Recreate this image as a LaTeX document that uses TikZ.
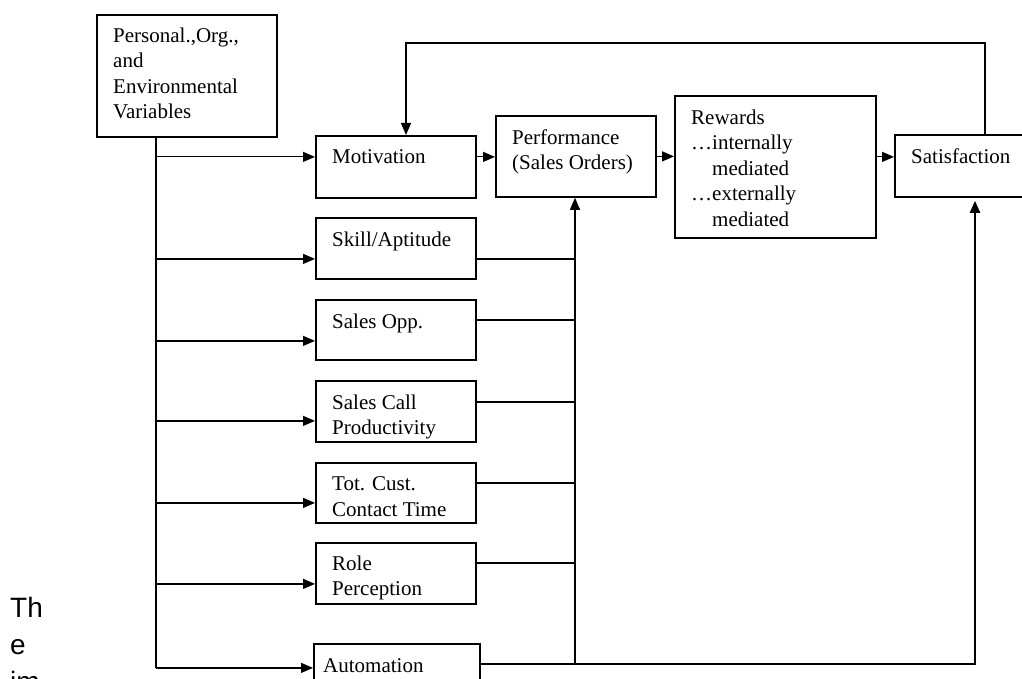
\documentclass[tikz,border=0pt]{standalone}
\usepackage{fontspec}
\setmainfont{Liberation Serif}
\setsansfont{Liberation Sans}
\usetikzlibrary{positioning,arrows.meta}

\tikzset{
	box/.style={draw, line width=1.8pt, anchor=north west, inner sep=0pt},
	txt/.style={anchor=north west, inner sep=0pt, align=left, font=\fontsize{21pt}{25.5pt}\selectfont},
	ln/.style={line width=1.2pt},
	arr/.style={line width=1.2pt, -{Triangle[length=12pt,width=10pt]}},
	heavy/.style={line width=2.2pt},
}

\begin{document}
\begin{tikzpicture}[x=1pt,y=-1pt]

	\useasboundingbox (0,0) rectangle (1022,679);
	\fill[white] (0,0) rectangle (1022,679);

	%boxes
	\node[box, minimum width=180pt, minimum height=122pt] (env) at (96,14) {};
	\node[box, minimum width=160pt, minimum height=62pt] (mot) at (315,135) {};
	\node[box, minimum width=160pt, minimum height=81pt] (perf) at (495,115) {};
	\node[box, minimum width=201pt, minimum height=142pt] (rew) at (674,95) {};
	\node[box, minimum width=135pt, minimum height=62pt] (sat) at (894,134) {};
	\node[box, minimum width=160pt, minimum height=61pt] (skill) at (315,217) {};
	\node[box, minimum width=160pt, minimum height=60pt] (opp) at (315,299) {};
	\node[box, minimum width=160pt, minimum height=61pt] (call) at (315,380) {};
	\node[box, minimum width=160pt, minimum height=60pt] (tot) at (315,462) {};
	\node[box, minimum width=160pt, minimum height=61pt] (role) at (315,542) {};
	\node[box, minimum width=166pt, minimum height=62pt] (auto) at (313,643) {};

	%box texts
	\node[txt, below right=13.5pt and 17pt of env.north west] (env-t) {Personal.,Org.,\\and\\Environmental\\Variables};
	\node[txt, below right=14.5pt and 17pt of mot.north west] (mot-t) {Motivation};
	\node[txt, below right=14.5pt and 17pt of perf.north west] (perf-t) {Performance\\(Sales Orders)};
	\node[txt, below right=14.5pt and 17pt of rew.north west] (rew-t) {Rewards\\…internally\\\phantom{…}mediated\\…externally\\\phantom{…}mediated};
	\node[txt, below right=15pt and 17pt of sat.north west] (sat-t) {Satisfaction};
	\node[txt, below right=14.5pt and 17pt of skill.north west] (skill-t) {Skill/Aptitude};
	\node[txt, below right=15pt and 17pt of opp.north west] (opp-t) {Sales Opp.};
	\node[txt, below right=14.5pt and 17pt of call.north west] (call-t) {Sales Call\\Productivity};
	\node[txt, below right=14.5pt and 17pt of tot.north west] (tot-t) {Tot. Cust.\\Contact Time};
	\node[txt, below right=13.5pt and 17pt of role.north west] (role-t) {Role\\Perception};
	\node[txt, below right=15pt and 10pt of auto.north west] (auto-t) {Automation};

	\node[anchor=north west, inner sep=0pt, align=left, font=\sffamily\fontsize{28pt}{37pt}\selectfont] (cut) at (10,597) {Th\\e\\im};

	%connector points
	\coordinate (tr) at (156,0);
	\coordinate (col) at (575,0);
	\coordinate (sx) at (975,0);
	\coordinate (fbr) at (985,43);
	\coordinate (fbl) at (406,43);
	\coordinate (mot-in) at ([yshift=10pt]mot.west);
	\coordinate (skill-in) at ([yshift=-10.5pt]skill.west);
	\coordinate (opp-in) at ([yshift=-11pt]opp.west);
	\coordinate (call-in) at ([yshift=-9.5pt]call.west);
	\coordinate (tot-in) at ([yshift=-10pt]tot.west);
	\coordinate (role-in) at ([yshift=-10.5pt]role.west);
	\coordinate (auto-in) at ([yshift=7pt]auto.west);
	\coordinate (sat-in) at ([yshift=9pt]sat.west);
	\coordinate (skill-out) at ([yshift=-10.5pt]skill.east);
	\coordinate (opp-out) at ([yshift=10pt]opp.east);
	\coordinate (call-out) at ([yshift=9.5pt]call.east);
	\coordinate (tot-out) at ([yshift=10pt]tot.east);
	\coordinate (role-out) at ([yshift=10.5pt]role.east);
	\coordinate (auto-out) at ([yshift=11pt]auto.east);

	%inputs from the variables
	\draw[ln] (env.south -| tr) -- (auto-in -| tr);
	\draw[arr] (mot-in -| tr) -- (mot-in);
	\draw[arr] (skill-in -| tr) -- (skill-in);
	\draw[arr] (opp-in -| tr) -- (opp-in);
	\draw[arr] (call-in -| tr) -- (call-in);
	\draw[arr] (tot-in -| tr) -- (tot-in);
	\draw[arr] (role-in -| tr) -- (role-in);
	\draw[arr] (auto-in -| tr) -- (auto-in);

	%main chain
	\draw[arr] (mot-in -| mot.east) -- (mot-in -| perf.west);
	\draw[arr] (perf.east) -- (perf.east -| rew.west);
	\draw[arr] (sat-in -| rew.east) -- (sat-in);
	\draw[arr] (fbr |- sat.north) -- (fbr) -- (fbl) -- (fbl |- mot.north);

	%into performance
	\draw[ln] (skill-out) -- (skill-out -| col);
	\draw[ln] (opp-out) -- (opp-out -| col);
	\draw[ln] (call-out) -- (call-out -| col);
	\draw[ln] (tot-out) -- (tot-out -| col);
	\draw[arr] (role-out -| col) -- (col |- perf.south);
	\draw[heavy] (role-out) -- (role-out -| col) -- (auto-out -| col);

	%automation into satisfaction
	\draw[heavy, -{Triangle[length=12pt,width=10pt]}, shorten >=3pt] (auto-out) -- (auto-out -| sx) -- (sx |- sat.south);

\end{tikzpicture}
\end{document}
